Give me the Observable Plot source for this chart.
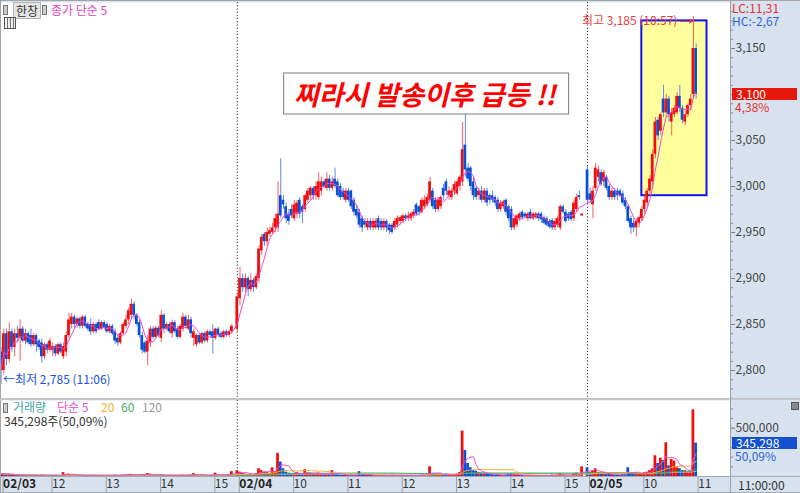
<!DOCTYPE html>
<html><head><meta charset="utf-8">
<script src="https://cdn.jsdelivr.net/npm/d3@7"></script>
<script src="https://cdn.jsdelivr.net/npm/@observablehq/plot@0.6"></script>
<style>
body{margin:0;background:#fff;}
#wrap{position:relative;width:800px;height:493px;background:#d8e2ee;overflow:hidden;font-family:'Noto Sans CJK KR',sans-serif;}
#wrap svg{position:absolute;left:0;}
.ov{position:absolute;white-space:nowrap;font-size:12px;line-height:12px;}
</style></head><body><div id="wrap"></div>
<script>
// ---------- data ----------
const sessionDates = ["02/03", "02/04", "02/05"];
const sessionFirst = ["11:06", "09:00", "09:00"];
const sessionAuction = [true, true, false]; // last candle of the session is the 15:30 close
// [open, high, low, close, volume (thousand shares)] per 3-minute candle
const day1 = [
[2820,2825,2785,2800,30],[2800,2845,2795,2840,25],[2840,2845,2805,2812,20],[2812,2852,2808,2842,22],[2842,2845,2820,2825,15],
[2825,2845,2815,2840,14],[2840,2848,2830,2835,10],[2835,2855,2810,2845,18],[2845,2848,2830,2832,10],[2832,2845,2828,2840,9],
[2840,2842,2828,2830,8],[2838,2845,2825,2828,12],[2828,2840,2826,2838,8],[2838,2840,2820,2828,10],[2832,2834,2822,2825,8],
[2830,2834,2808,2815,15],[2815,2830,2812,2828,10],[2828,2830,2818,2822,8],[2822,2835,2820,2832,9],[2822,2830,2815,2826,8],
[2826,2828,2815,2818,10],[2818,2830,2816,2828,9],[2828,2830,2818,2820,8],[2815,2830,2812,2826,40],[2820,2842,2815,2838,20],
[2838,2862,2835,2855,25],[2850,2862,2845,2858,15],[2858,2860,2845,2850,12],[2850,2858,2846,2856,10],[2856,2858,2845,2848,8],
[2848,2860,2845,2858,12],[2858,2860,2846,2848,9],[2850,2852,2842,2845,8],[2850,2856,2838,2842,12],[2842,2852,2840,2850,9],
[2850,2852,2840,2842,8],[2852,2855,2843,2845,10],[2845,2854,2843,2852,8],[2852,2854,2844,2846,7],[2850,2852,2840,2842,9],
[2842,2850,2840,2848,8],[2848,2850,2838,2840,10],[2842,2845,2828,2832,14],[2835,2838,2826,2830,10],[2830,2842,2828,2840,12],
[2840,2852,2838,2850,14],[2848,2860,2845,2855,15],[2855,2868,2850,2865,18],[2860,2878,2855,2872,22],[2872,2875,2855,2860,15],
[2860,2862,2848,2850,12],[2852,2855,2835,2838,15],[2838,2842,2818,2822,20],[2830,2832,2818,2820,14],[2820,2838,2805,2832,30],
[2830,2848,2825,2845,25],[2845,2848,2834,2836,12],[2836,2848,2834,2846,10],[2846,2848,2836,2838,8],[2835,2865,2830,2860,20],
[2860,2862,2840,2845,14],[2845,2852,2843,2850,8],[2850,2852,2840,2842,9],[2840,2855,2835,2852,12],[2852,2854,2840,2842,10],
[2845,2848,2834,2836,9],[2836,2850,2834,2848,10],[2845,2862,2842,2858,14],[2858,2860,2846,2848,10],[2845,2860,2843,2855,12],
[2855,2858,2835,2840,15],[2835,2845,2826,2842,30],[2828,2840,2825,2838,18],[2838,2840,2828,2830,12],[2830,2842,2828,2840,14],
[2840,2842,2830,2832,10],[2832,2844,2830,2842,12],[2842,2844,2836,2838,8],[2842,2850,2818,2835,15],[2835,2846,2833,2845,35],
[2845,2847,2836,2838,12],[2840,2842,2834,2836,10],[2836,2844,2834,2842,12],[2842,2844,2836,2838,15],[2838,2844,2836,2842,20],
[2842,2850,2840,2848,50]
];
const day2 = [
[2845,2885,2840,2880,60],[2878,2912,2870,2900,45],[2900,2905,2885,2890,30],[2890,2905,2885,2900,25],[2900,2902,2880,2888,20],
[2888,2905,2885,2898,25],[2898,2900,2885,2890,20],[2890,2905,2888,2902,30],[2900,2935,2895,2932,80],[2930,2948,2925,2945,60],
[2948,2950,2935,2940,45],[2940,2955,2935,2950,40],[2948,2956,2945,2952,30],[2950,2960,2948,2955,90],[2955,2970,2950,2965,50],
[2955,3005,2950,2970,240],[2990,3030,2965,2968,150],[2985,2990,2975,2980,80],[2978,2982,2960,2965,45],[2970,2975,2958,2962,35],
[2975,2980,2965,2968,30],[2965,2985,2962,2980,25],[2970,2985,2965,2982,40],[2985,2988,2965,2970,30],[2978,2980,2960,2972,25],
[2975,2992,2972,2990,70],[2985,2998,2982,2995,35],[2990,3000,2985,2998,30],[2998,3000,2985,2990,20],[2990,3005,2985,3000,25],
[2988,3015,2985,3005,35],[2995,3010,2990,3005,30],[3005,3008,2998,3000,20],[2998,3015,2995,3008,25],[3008,3012,2995,2998,20],
[2998,3010,2995,3005,60],[3008,3020,2998,3000,30],[3005,3008,2988,2990,20],[3000,3003,2985,2988,15],[2995,2998,2985,2988,12],
[2985,2998,2982,2995,15],[2995,2998,2983,2985,12],[2995,2996,2975,2978,15],[2985,2988,2968,2972,15],[2975,2980,2965,2968,12],
[2972,2975,2955,2958,50],[2965,2968,2950,2955,20],[2962,2965,2955,2958,12],[2955,2965,2952,2962,10],[2962,2965,2952,2955,10],
[2955,2965,2952,2962,12],[2955,2965,2953,2962,10],[2965,2968,2952,2955,10],[2962,2965,2952,2955,8],[2955,2965,2952,2962,10],
[2962,2964,2950,2955,12],[2958,2960,2948,2952,10],[2958,2960,2948,2950,15],[2955,2965,2952,2962,12],[2958,2968,2955,2965,10],
[2962,2968,2958,2966,12],[2962,2970,2960,2968,10],[2968,2970,2962,2965,8],[2965,2972,2962,2968,10],[2965,2972,2962,2970,8],
[2968,2975,2965,2972,10],[2980,2982,2968,2970,12],[2978,2980,2968,2972,10],[2972,2988,2970,2985,15],[2978,2990,2975,2985,12],
[2980,2992,2978,2988,15],[2985,3010,2982,3005,100],[2995,2998,2975,2978,30],[2985,2988,2972,2975,20],[2975,2988,2972,2985,15],
[2978,2990,2975,2988,15],[2998,3002,2985,2990,20],[3005,3008,2990,2995,25],[2990,3000,2985,2995,15],[2988,2998,2985,2995,12],
[2995,3005,2990,3002,20],[2992,3008,2990,3005,25],[3000,3012,2995,3010,40],[3005,3070,3000,3040,470],[3045,3080,3010,3018,270],
[3020,3025,3005,3008,135],[3020,3022,2995,3000,90],[3005,3010,2985,2990,60],[2998,3000,2985,2988,55],[2990,2998,2985,2995,40],
[2995,3000,2982,2985,35],[2985,2998,2982,2995,30],[2995,2998,2978,2982,25],[2990,2992,2980,2985,20],[2990,2995,2982,2985,20],
[2988,2990,2978,2982,15],[2985,2988,2972,2975,20],[2975,2985,2972,2982,15],[2978,2985,2975,2983,12],[2985,2987,2968,2972,15],
[2978,2980,2962,2965,20],[2975,2978,2952,2955,30],[2955,2968,2952,2965,20],[2958,2970,2955,2968,15],[2965,2972,2962,2970,12],
[2972,2974,2964,2966,10],[2970,2972,2965,2967,8],[2965,2972,2962,2970,10],[2972,2975,2964,2965,8],[2965,2972,2963,2970,10],
[2966,2972,2964,2970,8],[2970,2972,2962,2965,10],[2970,2972,2960,2964,8],[2966,2968,2958,2960,10],[2965,2967,2956,2958,12],
[2962,2964,2954,2956,10],[2963,2965,2952,2955,15],[2955,2965,2952,2962,12],[2958,2968,2955,2965,15],[2955,2980,2952,2978,30],
[2978,2980,2970,2972,15],[2972,2975,2960,2962,12],[2970,2972,2962,2965,10],[2972,2974,2962,2964,12],[2965,2985,2962,2982,25],
[2975,2992,2972,2988,35],[2990,2995,2985,2988,20],[2968,2970,2968,2970,100]
];
const day3 = [
[3018,3022,2980,2985,90],[2992,2998,2982,2985,40],[2980,3000,2965,2995,60],[2998,3025,2995,3020,80],[3010,3022,3005,3018,40],
[3015,3018,3000,3002,30],[3005,3018,3000,3015,25],[3010,3012,2995,2998,30],[3000,3002,2985,2988,25],[2988,2998,2985,2995,20],
[2995,2998,2985,2988,15],[2995,2998,2985,2990,15],[2995,2997,2988,2990,12],[2992,2995,2980,2982,20],[2985,2988,2975,2978,25],
[2978,2980,2960,2962,90],[2965,2968,2948,2955,40],[2960,2965,2950,2955,30],[2955,2965,2945,2962,35],[2960,2968,2955,2966,25],
[2965,2978,2962,2975,30],[2975,2990,2970,2985,40],[2982,2998,2978,2995,45],[2995,3012,2990,3008,60],[3005,3040,3000,3035,80],
[3035,3075,3030,3070,215],[3072,3075,3050,3055,135],[3060,3080,3055,3078,190],[3095,3110,3075,3080,165],[3080,3100,3075,3095,350],
[3095,3098,3070,3078,110],[3070,3085,3055,3080,175],[3078,3088,3075,3085,160],[3080,3102,3078,3098,90],[3098,3110,3080,3085,80],
[3085,3088,3068,3072,60],[3070,3082,3066,3078,60],[3078,3090,3075,3088,40],[3088,3100,3082,3095,50],[3100,3185,3095,3150,690],
[3150,3155,3095,3100,345.298]
];
const volumeRatioText = "50,09%";
const highlightBox = {date: "02/05", from: "10:00", to: "11:12", low: 2990, high: 3180};
const annotation = {date: "02/04", time: "12:27", price: 3098, label: "찌라시 발송이후 급등 !!"};
const priceTicks = [2800, 2850, 2900, 2950, 3000, 3050, 3100, 3150];
const volumeTicks = [500];

// ---------- build ----------
const toMin = s => { const [h, m] = s.split(":").map(Number); return h * 60 + m; };
const hhmm = m => String(Math.floor(m / 60)).padStart(2, "0") + ":" + String(m % 60).padStart(2, "0");
const rows = [day1, day2, day3];
const candles = [];
const sessionStart = {};
let start = 0;
sessionDates.forEach((date, si) => {
  const open = toMin(sessionFirst[si]);
  sessionStart[date] = {slot: start, open};
  rows[si].forEach(([o, h, l, c, v], i) => {
    const auction = sessionAuction[si] && i === rows[si].length - 1;
    candles.push({date, min: auction ? 15 * 60 + 30 : open + 3 * i, slot: start + i, first: i === 0,
      open: o, high: h, low: l, close: c, vol: v, up: c >= o});
  });
  start += rows[si].length + 1;
});
const slotOf = (date, time) => sessionStart[date].slot + (toMin(time) - sessionStart[date].open) / 3;

const UP = "#f00d0d", DN = "#0b4fd6", UPW = "#f56060", DNW = "#5f8ae4";
const X_DOMAIN = [-0.22, 268.66];
const fmt = d3.format(",");
const dec = v => v.toFixed(2).replace(".", ",");
const dayTicks = candles.filter(d => d.first);
const separators = dayTicks.slice(1);
const hourTicks = candles.filter(d => !d.first && d.min % 60 === 0);
const tickLabel = new Map(hourTicks.map(d => [d.slot, String(d.min / 60)]));
const dayLabel = new Map(dayTicks.map(d => [d.slot, d.date]));
const last = candles[candles.length - 1];
const prevClose = candles.filter(d => d.date === sessionDates[1]).slice(-1)[0].close;
const hiC = candles.reduce((a, b) => b.high > a.high ? b : a);
const loC = candles.reduce((a, b) => b.low < a.low ? b : a);
const style = {fontFamily: "'Noto Sans CJK KR', sans-serif", fontSize: "12px", background: "transparent", overflow: "visible"};

const bodyY2 = d => d.close === d.open ? d.close + 1 : d.close;
const HALF = 0.5;
// the current-price badge covers its own tick label
const priceTickFormat = v => v === last.close ? "" : fmt(v);

const main = Plot.plot({
  width: 800, height: 400, marginTop: 2, marginBottom: 2, marginLeft: 0, marginRight: 70,
  x: {domain: X_DOMAIN, axis: null},
  y: {domain: [2769.57, 3200], axis: null},
  color: {type: "identity"},
  style,
  marks: [
    Plot.frame({fill: "white", stroke: "none"}),
    Plot.rect([highlightBox], {x1: d => slotOf(d.date, d.from), x2: d => slotOf(d.date, d.to), y1: "low", y2: "high",
      fill: "#ffff9e", stroke: "#1212ee", strokeWidth: 2}),
    Plot.ruleX(separators, {x: "slot", stroke: "#333", strokeDasharray: "1.2,2"}),
    Plot.ruleX(candles, {x: "slot", y1: "low", y2: "high", stroke: d => d.up ? UPW : DNW, strokeWidth: 1}),
    Plot.rect(candles, {x1: d => d.slot - HALF, x2: d => d.slot + HALF, y1: "open", y2: bodyY2, fill: d => d.up ? UP : DN}),
    Plot.lineY(candles, Plot.windowY({k: 5, anchor: "end"}, {x: "slot", y: "close", stroke: "#e94ad2", strokeWidth: 1})),
    Plot.axisY(priceTicks, {anchor: "right", label: null, tickSize: 4, tickPadding: 1, tickFormat: priceTickFormat, fill: "#454545", stroke: "#7a7a7a", fontSize: 12}),
    Plot.axisY(d3.range(2770, 3200, 10), {anchor: "right", label: null, tickSize: 2, tickFormat: () => "", stroke: "#8a8a8a"}),
    Plot.text([hiC], {x: "slot", y: "high", text: d => `최고 ${fmt(d.high)} (${hhmm(d.min)})`, textAnchor: "end", dx: -16, dy: 5, fill: "#ee3b3b", fontSize: 12}),
    Plot.arrow([hiC], {x1: d => d.slot - 4.8, x2: d => d.slot - 0.4, y1: "high", y2: "high", dy: 5, stroke: "#ee3b3b", headLength: 5, strokeWidth: 1}),
    Plot.text([loC], {x: "slot", y: "low", text: d => `←최저 ${fmt(d.low)} (${hhmm(d.min)})`, textAnchor: "start", dx: 2, dy: -4, fill: "#2152e0", fontSize: 12}),
    Plot.text([annotation], {x: d => slotOf(d.date, d.time), y: "price", text: "label", fill: "#ff0000", fontSize: 27,
      fontWeight: "bold", fontStyle: "italic"})
  ]
});

const vol = Plot.plot({
  width: 800, height: 93, marginTop: 0, marginBottom: 17, marginLeft: 0, marginRight: 70,
  x: {domain: X_DOMAIN, label: null},
  y: {domain: [0, 786.7], label: null},
  color: {type: "identity"},
  style,
  marks: [
    Plot.frame({fill: "white", stroke: "none"}),
    Plot.ruleX(separators, {x: "slot", stroke: "#333", strokeDasharray: "1.2,2"}),
    Plot.rect(candles, {x1: d => d.slot - HALF, x2: d => d.slot + HALF, y1: 0, y2: "vol", fill: d => d.up ? UP : DN}),
    Plot.lineY(candles, Plot.windowY({k: 120, anchor: "end"}, {x: "slot", y: "vol", stroke: "#b4b4b4", strokeWidth: 1})),
    Plot.lineY(candles, Plot.windowY({k: 60, anchor: "end"}, {x: "slot", y: "vol", stroke: "#35b055", strokeWidth: 1})),
    Plot.lineY(candles, Plot.windowY({k: 20, anchor: "end"}, {x: "slot", y: "vol", stroke: "#f5b235", strokeWidth: 1})),
    Plot.lineY(candles, Plot.windowY({k: 5, anchor: "end"}, {x: "slot", y: "vol", stroke: "#f050d2", strokeWidth: 1})),
    Plot.axisY(volumeTicks, {anchor: "right", label: null, tickSize: 4, tickPadding: 1, tickFormat: d => fmt(d * 1000), fill: "#454545", stroke: "#7a7a7a", fontSize: 12}),
    Plot.axisY(d3.range(100, 781, 100), {anchor: "right", label: null, tickSize: 2, tickFormat: () => "", stroke: "#8a8a8a"}),
    Plot.axisX(hourTicks.map(d => d.slot), {label: null, tickSize: 17, tickPadding: -14, textAnchor: "start", dx: 2,
      tickFormat: s => tickLabel.get(s), fill: "#333", stroke: "#98a2ae", fontSize: 12}),
    Plot.axisX(dayTicks.map(d => d.slot), {label: null, tickSize: 17, tickPadding: -14, textAnchor: "start", dx: 2,
      tickFormat: s => dayLabel.get(s), fill: "#222", stroke: "#98a2ae", fontSize: 12, fontWeight: "bold"})
  ]
});

const wrap = document.getElementById("wrap");
main.style.top = "0px";
vol.style.top = "400px";
wrap.appendChild(main);
wrap.appendChild(vol);

// annotation box behind the callout text
const callout = [...main.querySelectorAll("text")].find(t => t.textContent === annotation.label);
if (callout) {
  const bb = callout.getBBox();
  const r = document.createElementNS("http://www.w3.org/2000/svg", "rect");
  r.setAttribute("x", bb.x - 10); r.setAttribute("y", bb.y - 1);
  r.setAttribute("width", bb.width + 20); r.setAttribute("height", bb.height + 2);
  r.setAttribute("fill", "white"); r.setAttribute("stroke", "#7c7c7c");
  if (callout.getAttribute("transform")) r.setAttribute("transform", callout.getAttribute("transform"));
  callout.parentNode.insertBefore(r, callout);
}

// chrome overlays
function box(left, top, w, h, css) {
  const d = document.createElement("div");
  d.style.cssText = `position:absolute;left:${left}px;top:${top}px;width:${w}px;height:${h}px;` + (css || "");
  wrap.appendChild(d); return d;
}
function ov(text, left, top, css) {
  const d = document.createElement("div");
  d.className = "ov"; d.textContent = text;
  d.style.left = left + "px"; d.style.top = top + "px";
  if (css) d.style.cssText += css;
  wrap.appendChild(d); return d;
}
box(0, 0, 800, 1, "background:#a4a4a4");
box(0, 0, 1, 493, "background:#a4a4a4");
box(0, 398, 800, 2, "background:#c3c6ca");
box(0, 476, 800, 1, "background:#a2aab4");
box(0, 492, 800, 1, "background:#a2aab4");
box(730, 0, 1, 493, "background:#98a2ae");

// top-left toolbar
box(3, 5, 3, 8, "background:#ccc;border:1px solid #777");
ov("한창", 13, 2, "width:26px;height:15px;line-height:15px;text-align:center;background:#e4e4e4;border:1px solid #b4b4b4;color:#333");
box(42, 5, 3, 8, "background:#ccc;border:1px solid #777");
ov("종가 단순 5", 51, 4, "color:#e040c4");
box(4, 17, 10, 10, "border:1px solid #555;background:repeating-linear-gradient(90deg,#eee 0 2px,#777 2px 3px)");

// volume legend
box(3, 403, 3, 8, "background:#ccc;border:1px solid #777");
ov("거래량", 13, 401, "color:#3fa7a7");
ov("단순 5", 57, 401, "color:#e84fc8");
ov("20", 101, 401, "color:#f0b030");
ov("60", 121, 401, "color:#3fae60");
ov("120", 142, 401, "color:#999");
ov(`${fmt(Math.round(last.vol * 1000))}주(${volumeRatioText})`, 4, 415, "color:#333");

// right panel labels
ov(`LC:${dec((last.close / loC.low - 1) * 100)}`, 732, 2, "color:#ea3030");
ov(`HC:${dec((last.close / hiC.high - 1) * 100)}`, 732, 15, "color:#2f62d8");
const yP = main.scale("y").apply(last.close);
ov(fmt(last.close), 732, yP - 6, "width:61px;height:12px;padding-left:4px;background:#e8170b;color:#fff");
ov(`${dec((last.close / prevClose - 1) * 100)}%`, 735, yP + 7, "color:#ea3030");
const yV = 400 + vol.scale("y").apply(last.vol);
ov(fmt(Math.round(last.vol * 1000)), 732, yV - 6, "width:61px;height:12px;padding-left:4px;background:#1450d0;color:#fff");
ov(volumeRatioText, 735, yV + 7, "color:#2f62d8");
box(791, 402, 6, 6, "background:#888;border:1px solid #555");
ov(hhmm(last.min) + ":00", 738, 479, "color:#333");
</script></body></html>
